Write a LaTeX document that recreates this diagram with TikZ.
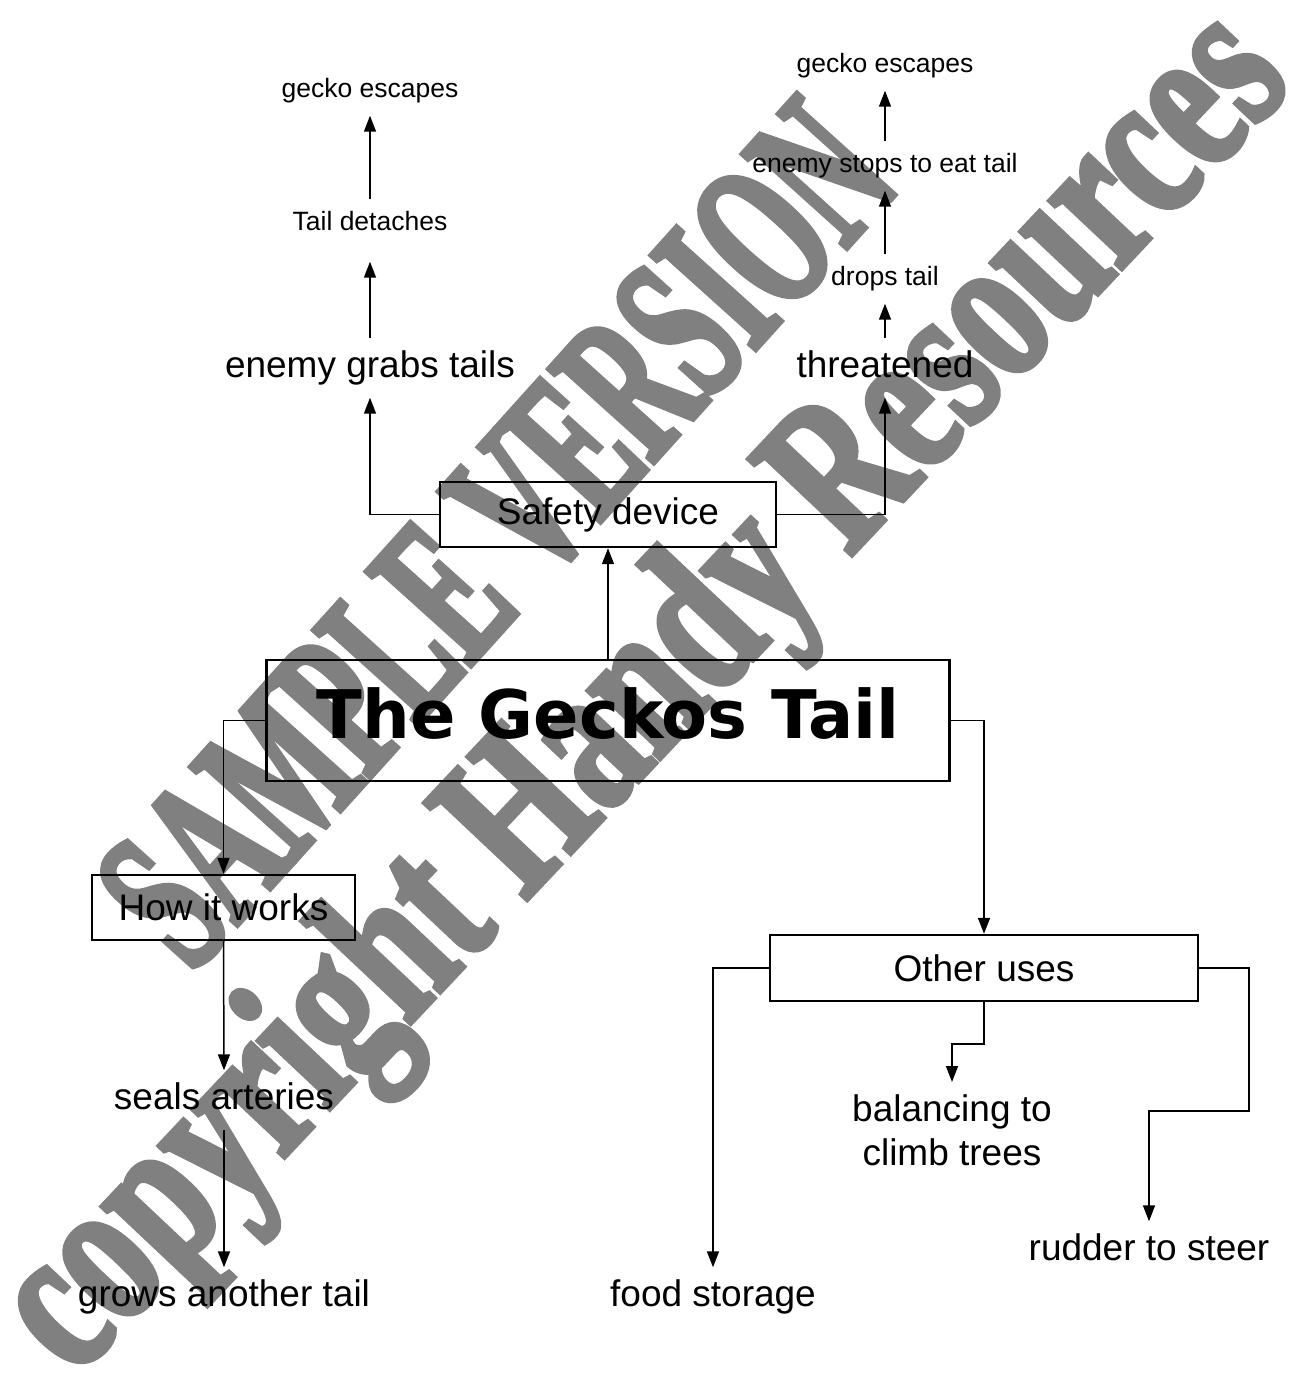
\documentclass[tikz,border=0pt]{standalone}
\usepackage{fontspec}
\setmainfont{Liberation Sans}
\newfontfamily\titlefont{DejaVu Sans}
\newfontfamily\markfontA{Liberation Serif}[FakeStretch=0.55, FakeBold=2.5]
\newfontfamily\markfontB{Liberation Serif}[FakeStretch=0.70, FakeBold=2.5]
\usetikzlibrary{arrows.meta,positioning}
\definecolor{markgray}{RGB}{128,128,128}

\begin{document}
\begin{tikzpicture}[x=1pt, y=-1pt,
    box/.style={draw, line width=2.4pt, inner sep=0pt,
                font=\fontsize{37}{44}\selectfont},
    bigtxt/.style={inner sep=12pt, text height=27pt, text depth=8pt,
                   font=\fontsize{37}{44}\selectfont},
    smalltxt/.style={inner sep=12pt, text height=19pt, text depth=6pt,
                     font=\fontsize{26.5}{32}\selectfont},
    link/.style={line width=1.5pt, -{Triangle[length=16pt,width=12pt]}},
    watermark/.style={text=markgray, inner sep=0pt,
                      font=\fontsize{215}{250}\selectfont}]
  \useasboundingbox (0,0) rectangle (1295,1382);

  % Watermark
  \node[watermark, rotate=48] (markA) at (496,534)
       {\markfontA\bfseries SAMPLE VERSION};
  \node[watermark, rotate=46.7] (markB) at (648,697)
       {\markfontB\bfseries copyright Handy Resources};

  % Boxes
  \node[box, minimum width=683pt, minimum height=121pt, text depth=14pt,
        font=\titlefont\bfseries\fontsize{67}{70}\selectfont] (gecko) at (608,720.5)
       {The Geckos Tail};
  \node[box, minimum width=336pt, minimum height=65pt] (safety) at (608,514.5)
       {Safety device};
  \node[box, minimum width=263pt, minimum height=65pt] (works) at (223.5,907.5)
       {How it works};
  \node[box, minimum width=428pt, minimum height=66pt] (uses) at (984,968)
       {Other uses};

  % Safety device branch
  \node[bigtxt] (grabs) at (370,368) {enemy grabs tails};
  \node[smalltxt] (detach) at (370,224) {Tail detaches};
  \node[smalltxt] (escL) at (370,91) {gecko escapes};
  \node[bigtxt] (threat) at (885,368) {threatened};
  \node[smalltxt] (drops) at (885,279) {drops tail};
  \node[smalltxt] (eats) at (885,166) {enemy stops to eat tail};
  \node[smalltxt] (escR) at (885,66) {gecko escapes};

  % How it works branch
  \node[bigtxt] (seals) at (224,1100) {seals arteries};
  \node[bigtxt] (grows) at (224,1297) {grows another tail};

  % Other uses branch
  \node[bigtxt] (food) at (713,1297) {food storage};
  \node[inner sep=12pt, align=center, anchor=north,
        font=\fontsize{37}{44}\selectfont] (balance) at (952,1082)
       {balancing to\\climb trees};
  \node[bigtxt] (rudder) at (1149,1251) {rudder to steer};

  % Connectors
  \draw[link] (gecko.north) -- (safety.south);
  \draw[link] (safety.west) -| (grabs.south);
  \draw[link] (safety.east) -| (threat.south);
  \draw[link, shorten >=13pt] (grabs.north) -- (detach.south);
  \draw[link] (detach.north) -- (escL.south);
  \draw[link] (threat.north) -- (drops.south);
  \draw[link] (drops.north) -- (eats.south);
  \draw[link] (eats.north) -- (escR.south);
  \draw[link] (gecko.west) -| (works.north);
  \draw[link] (works.south) -- (seals.north);
  \draw[link] (seals.south) -- (grows.north);
  \draw[link] (gecko.east) -| (uses.north);
  \draw[link] (uses.west) -| (food.north);
  \draw[link] (uses.south) -- ++(0,42) -| (balance.north);
  \draw[link] (uses.east) -| ++(50,143) -| (rudder.north);
\end{tikzpicture}
\end{document}
